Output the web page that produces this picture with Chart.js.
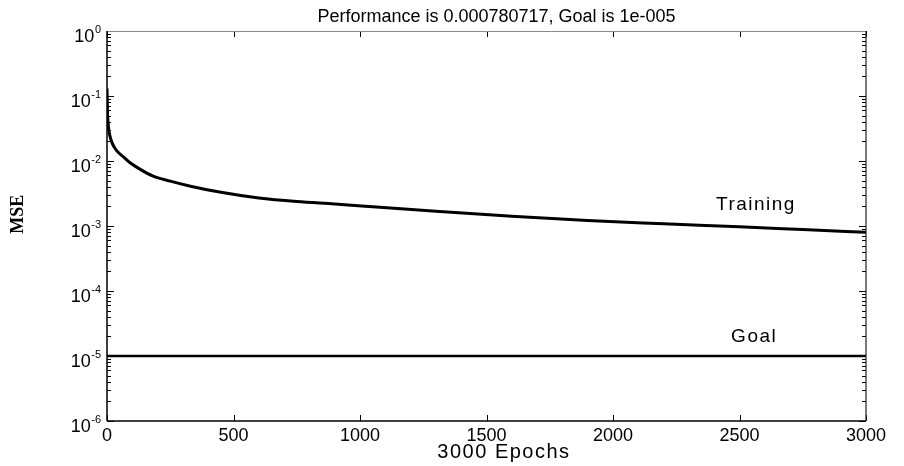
<!DOCTYPE html>
<html>
<head>
<meta charset="utf-8">
<script src="https://cdn.jsdelivr.net/npm/chart.js@4"></script>
<style>
  html, body { margin: 0; padding: 0; background: #fff; }
  #wrap { width: 904px; height: 466px; }
</style>
</head>
<body>
<div id="wrap"><canvas id="c" width="904" height="466"></canvas></div>
<script>
// ---------------- data ----------------
const epochs = [0, 1, 2, 4, 7, 12, 20, 30, 45, 65, 90, 130, 180, 250, 330, 450, 600, 750, 900, 1050, 1300, 1600, 1900, 2200, 2500, 2750, 3000];
const trainingMSE = [0.13, 0.08, 0.055, 0.04, 0.03, 0.024, 0.019, 0.016, 0.0135, 0.0116, 0.0095, 0.0075, 0.0059, 0.0049, 0.0041, 0.0033, 0.0027, 0.00238, 0.00218, 0.00198, 0.00168, 0.00141, 0.00121, 0.00108, 0.00097, 0.00088, 0.0008];
const goalEpochs = [0, 3000];
const goalMSE = [1e-5, 1e-5];
const xTicks = [0, 500, 1000, 1500, 2000, 2500, 3000];
const yDecades = [1e-6, 1e-5, 1e-4, 1e-3, 1e-2, 1e-1, 1];
const titleText = 'Performance is 0.000780717, Goal is 1e-005';
const xLabel = '3000 Epochs';
const yLabel = 'MSE';
const seriesNames = ['Training', 'Goal'];
// anchor of the in-plot series names, in data units (epoch, MSE)
const seriesNameAnchors = [[2565, 0.0021], [2558, 1.96e-5]];

// ---------------- helpers ----------------
const SANS = '"Liberation Sans", Arial, Helvetica, sans-serif';
const exponentOf = v => Math.round(Math.log10(v));

const framePlugin = {
  id: 'frame',
  afterLayout(chart) {
    const t = chart.titleBlock;
    if (t) { t.left += 10; t.right += 10; }
  },
  afterDraw(chart) {
    const { ctx, chartArea: a, scales } = chart;
    const x = scales.x, y = scales.y;
    const seg = (x1, y1, x2, y2) => { ctx.beginPath(); ctx.moveTo(x1, y1); ctx.lineTo(x2, y2); ctx.stroke(); };
    ctx.save();
    ctx.strokeStyle = '#000';
    ctx.lineWidth = 1;
    // x tick marks (inside, bottom and top)
    xTicks.forEach(v => {
      const px = Math.round(x.getPixelForValue(v)) + 0.5;
      seg(px, a.bottom, px, a.bottom - 6);
      seg(px, a.top, px, a.top + 6);
    });
    // y tick marks (major + minor, inside, left and right)
    for (let i = 0; i < yDecades.length; i++) {
      const d = yDecades[i];
      const maxM = (i === yDecades.length - 1) ? 1 : 9;
      for (let m = 1; m <= maxM; m++) {
        const py = Math.round(y.getPixelForValue(m * d)) + 0.5;
        const len = m === 1 ? 7 : 4;
        seg(a.left, py, a.left + len, py);
        seg(a.right, py, a.right - len, py);
      }
    }
    // box
    ctx.strokeStyle = '#8a8a8a';
    ctx.lineWidth = 1;
    seg(a.left, a.top + 0.5, a.right, a.top + 0.5);
    ctx.strokeStyle = '#000';
    ctx.lineWidth = 1.5;
    seg(a.left, a.bottom, a.right, a.bottom);
    seg(a.left, a.top, a.left, a.bottom);
    ctx.strokeStyle = '#222';
    ctx.lineWidth = 1.2;
    seg(a.right, a.top, a.right, a.bottom);

    ctx.fillStyle = '#000';
    // y tick labels: 10 with raised exponent
    y.ticks.forEach(t => {
      const py = y.getPixelForValue(t.value);
      const exp = String(exponentOf(t.value));
      ctx.textBaseline = 'middle';
      ctx.textAlign = 'right';
      ctx.font = '11px ' + SANS;
      const expRight = a.left - 6;
      const wExp = ctx.measureText(exp).width;
      ctx.fillText(exp, expRight, py - 1);
      ctx.font = '18px ' + SANS;
      ctx.fillText('10', expRight - wExp - 0.5, py + 6);
    });

    // series names inside the plot
    ctx.textAlign = 'center';
    ctx.textBaseline = 'middle';
    ctx.font = '19px ' + SANS;
    try { ctx.letterSpacing = '1.5px'; } catch (e) {}
    seriesNames.forEach((name, i) => {
      const [ex, ev] = seriesNameAnchors[i];
      ctx.fillText(name, x.getPixelForValue(ex), y.getPixelForValue(ev));
    });
    // x axis label
    ctx.font = '20px ' + SANS;
    ctx.fillText(xLabel, a.left + (a.right - a.left) * 0.523, a.bottom + 31);
    // y axis label (rotated)
    try { ctx.letterSpacing = '0px'; } catch (e) {}
    ctx.save();
    ctx.translate(18, a.top + (a.bottom - a.top) * 0.47);
    ctx.rotate(-Math.PI / 2);
    ctx.font = 'bold 18px "Liberation Serif", "Times New Roman", serif';
    ctx.fillText(yLabel, 0, 0);
    ctx.restore();
    ctx.restore();
  }
};

new Chart(document.getElementById('c'), {
  type: 'line',
  data: {
    datasets: [
      {
        label: seriesNames[0],
        data: epochs.map((e, i) => ({ x: e, y: trainingMSE[i] })),
        borderColor: '#000',
        borderWidth: 3,
        pointRadius: 0,
        fill: false,
        cubicInterpolationMode: 'monotone'
      },
      {
        label: seriesNames[1],
        data: goalEpochs.map((e, i) => ({ x: e, y: goalMSE[i] })),
        borderColor: '#000',
        borderWidth: 2.5,
        pointRadius: 0,
        fill: false
      }
    ]
  },
  options: {
    responsive: false,
    animation: false,
    devicePixelRatio: 1,
    events: [],
    layout: { padding: { top: 0, right: 38, bottom: 0, left: 0 } },
    plugins: {
      legend: { display: false },
      tooltip: { enabled: false },
      title: {
        display: true,
        text: titleText,
        fullSize: false,
        color: '#000',
        font: { family: SANS, size: 18, weight: 'normal', lineHeight: 1.2 },
        padding: { top: 6, bottom: 3.4 }
      }
    },
    scales: {
      x: {
        type: 'linear',
        min: 0,
        max: 3000,
        afterBuildTicks: s => { s.ticks = xTicks.map(v => ({ value: v })); },
        afterFit: s => { s.height = 45; },
        grid: { display: false, drawTicks: false, tickLength: 0 },
        border: { display: false },
        ticks: {
          color: '#000',
          padding: 4,
          maxRotation: 0,
          autoSkip: false,
          font: { family: SANS, size: 18 },
          callback: v => String(v)
        }
      },
      y: {
        type: 'logarithmic',
        min: 1e-6,
        max: 1,
        afterBuildTicks: s => { s.ticks = yDecades.map(v => ({ value: v })); },
        afterFit: s => { s.width = 107; },
        grid: { display: false, drawTicks: false, tickLength: 0 },
        border: { display: false },
        ticks: {
          display: false,
          autoSkip: false,
          callback: v => '10^' + exponentOf(v)
        }
      }
    }
  },
  plugins: [framePlugin]
});
</script>
</body>
</html>
